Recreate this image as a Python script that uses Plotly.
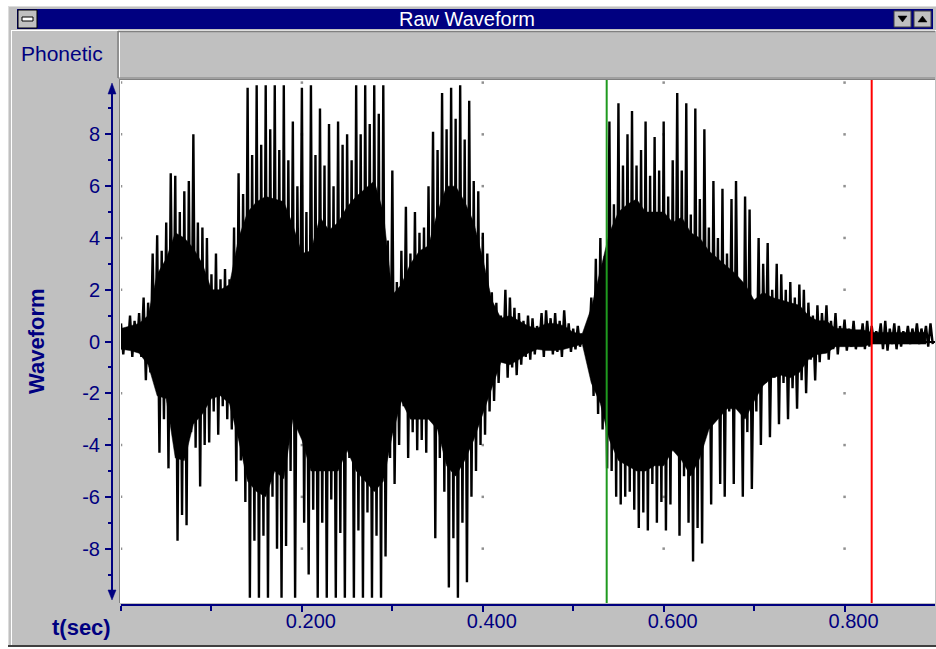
import plotly.graph_objects as go

# ---------------- data ----------------
SAMPLE_STEP = 0.005  # seconds between peak samples
upper_peak = [
    0.7, 0.5, 1.0, 0.8, 1.1, 1.7, 1.5, 3.4, 4.1, 3.5,
    4.6, 6.5, 6.4, 5.0, 5.8, 6.2, 8.0, 4.6, 4.4, 4.0,
    2.6, 3.4, 2.4, 2.8, 2.4, 4.4, 6.5, 5.7, 9.8, 7.2,
    9.9, 7.6, 9.9, 8.2, 9.9, 7.4, 9.9, 7.0, 8.5, 6.0,
    9.8, 5.0, 9.9, 7.2, 9.0, 6.8, 8.4, 6.0, 8.5, 7.6,
    8.0, 7.0, 9.9, 8.0, 9.9, 8.4, 9.9, 8.8, 9.9, 3.9,
    6.6, 2.3, 3.5, 5.2, 3.4, 5.0, 4.2, 4.4, 6.0, 8.1,
    7.4, 9.6, 8.2, 9.8, 8.6, 9.9, 7.8, 9.3, 6.2, 5.8,
    4.2, 3.4, 1.9, 1.5, 1.0, 2.0, 1.7, 1.3, 1.1, 0.8,
    1.0, 0.9, 0.6, 1.1, 1.2, 0.9, 1.1, 0.8, 1.2, 0.7,
    0.5, 0.6, 0.3, 0.4, 1.7, 3.2, 4.0, 3.3, 8.5, 5.3,
    9.2, 6.8, 8.0, 8.9, 6.8, 7.4, 8.5, 6.4, 7.9, 6.6,
    8.5, 5.6, 7.0, 9.6, 6.6, 9.2, 4.9, 9.0, 5.5, 8.2,
    4.4, 6.2, 4.0, 5.9, 3.4, 5.5, 6.2, 2.2, 5.6, 5.1,
    1.3, 4.0, 3.0, 3.8, 2.0, 3.0, 2.6, 2.0, 2.3, 1.7,
    2.2, 2.0, 1.5, 1.0, 1.4, 1.1, 1.4, 0.8, 1.1, 0.6,
    0.85, 0.5, 0.8, 0.4, 0.7, 0.8, 0.6, 0.4, 0.7, 0.8,
    0.5, 0.7, 0.6, 0.4, 0.6, 0.5, 0.7, 0.5, 0.6, 0.7,
]
lower_peak = [
    -0.5, -0.3, -0.6, -0.4, -0.6, -1.5, -1.2, -1.3, -4.3, -3.0,
    -4.9, -2.2, -7.7, -6.7, -7.1, -3.5, -4.1, -5.6, -4.0, -3.9,
    -2.7, -3.6, -2.5, -3.0, -3.4, -5.4, -4.6, -6.2, -9.9, -7.7,
    -9.9, -7.5, -9.9, -6.0, -8.0, -9.9, -7.9, -5.0, -9.9, -3.0,
    -7.0, -9.0, -6.5, -9.9, -7.0, -9.9, -6.1, -9.9, -7.4, -9.9,
    -4.5, -9.9, -7.3, -9.9, -6.6, -9.9, -7.5, -9.9, -8.3, -4.5,
    -5.5, -4.0, -2.5, -4.5, -3.5, -4.2, -3.8, -4.3, -3.0, -7.6,
    -4.5, -5.8, -9.5, -7.6, -9.9, -7.0, -9.3, -6.0, -5.0, -4.0,
    -3.6, -2.7, -2.3, -1.6, -0.8, -1.4, -1.0, -1.3, -0.9, -0.6,
    -0.7, -0.5, -0.2, -0.6, -0.3, -0.5, -0.4, -0.6, -0.2, -0.4,
    -0.3, -0.2, -0.1, -0.2, -2.1, -2.8, -3.4, -4.9, -5.0, -6.0,
    -6.3, -6.0, -5.8, -6.5, -7.2, -6.6, -7.3, -5.5, -7.0, -6.2,
    -7.3, -6.3, -4.0, -7.5, -5.2, -7.0, -8.5, -7.2, -7.8, -3.5,
    -6.3, -2.8, -5.5, -6.0, -2.7, -5.5, -2.5, -6.0, -3.5, -5.7,
    -2.7, -4.0, -1.6, -3.7, -1.4, -3.2, -1.6, -3.0, -1.8, -2.6,
    -1.5, -2.0, -0.7, -1.5, -0.8, -0.3, -0.7, -0.3, -0.5, -0.1,
    -0.35, -0.2, -0.3, -0.1, -0.3, -0.2, -0.05, 0.0, -0.3, -0.35,
    -0.1, -0.3, -0.2, -0.05, -0.1, 0.0, -0.1, 0.0, -0.2, -0.1,
]
# dense (solid black) core of the waveform, sampled every CORE_STEP seconds
CORE_STEP = 0.01
core_upper = [
    0.5, 0.6, 0.7, 1.0, 2.6, 3.2, 4.2, 4.0, 3.6, 3.0,
    2.0, 2.0, 2.2, 4.0, 5.0, 5.4, 5.6, 5.5, 5.4, 4.5,
    3.4, 3.5, 4.8, 4.3, 4.6, 5.2, 5.6, 5.9, 6.2, 5.0,
    1.8, 2.2, 3.0, 3.5, 3.7, 5.0, 6.0, 6.0, 5.4, 4.6,
    3.2, 1.6, 0.9, 1.0, 0.8, 0.6, 0.5, 0.7, 0.7, 0.6,
    0.35, 0.3, 1.3, 2.8, 4.2, 5.0, 5.3, 5.5, 5.0, 5.0,
    5.0, 4.6, 4.8, 4.2, 4.0, 3.5, 3.2, 2.9, 2.6, 2.2,
    1.6, 1.9, 1.7, 1.6, 1.5, 1.4, 1.0, 0.8, 0.8, 0.5,
    0.5, 0.45, 0.45, 0.35, 0.35, 0.35, 0.35, 0.35, 0.35, 0.35,
]
core_lower = [
    -0.3, -0.35, -0.45, -0.9, -2.1, -2.2, -4.5, -4.6, -3.2, -2.8,
    -2.2, -2.1, -2.4, -3.8, -5.4, -5.8, -6.0, -5.0, -5.3, -3.0,
    -3.8, -5.0, -5.0, -5.0, -5.0, -4.2, -5.0, -5.4, -5.8, -5.4,
    -3.6, -2.3, -3.0, -3.0, -3.0, -3.4, -4.8, -5.2, -4.6, -3.8,
    -2.8, -1.8, -0.8, -0.9, -0.7, -0.45, -0.3, -0.35, -0.35, -0.3,
    -0.2, -0.1, -1.6, -2.4, -3.8, -4.6, -4.8, -5.0, -5.0, -4.8,
    -4.8, -4.2, -4.6, -5.2, -4.5, -3.4, -3.0, -2.6, -2.6, -3.0,
    -2.3, -1.7, -1.4, -1.3, -1.4, -1.2, -0.7, -0.5, -0.45, -0.2,
    -0.2, -0.2, -0.2, -0.1, -0.1, -0.1, -0.1, -0.1, -0.1, -0.1,
]
cursor_start = 0.537   # green cursor (s)
cursor_end = 0.830     # red cursor (s)

x_tick_values = [0.2, 0.4, 0.6, 0.8]
x_tick_labels = ["0.200", "0.400", "0.600", "0.800"]
x_minor_values = [0.0, 0.1, 0.3, 0.5, 0.7]
y_tick_values = [-8, -6, -4, -2, 0, 2, 4, 6, 8]
y_tick_labels = ["-8", "-6", "-4", "-2", "0", "2", "4", "6", "8"]
y_minor_values = [-9, -7, -5, -3, -1, 1, 3, 5, 7, 9]
grid_x = [0.0, 0.2, 0.4, 0.6, 0.8]
grid_y = [10, 8, 6, 4, 2, -2, -4, -6, -8]

# ---------------- page geometry helpers ----------------
W, H = 936, 649
NAVY = "#000080"
GRAY = "#c0c0c0"
DARK = "#808080"
FONT = "Liberation Sans, Arial, sans-serif"


def px(x):
    return x / W


def py(y):
    return 1 - y / H


shapes = []


def rect(x0, y0, x1, y1, fill, line=None, lw=1, layer="below"):
    shapes.append(dict(type="rect", xref="paper", yref="paper",
                       x0=px(x0), x1=px(x1), y0=py(y1), y1=py(y0),
                       fillcolor=fill, layer=layer,
                       line=dict(color=line or fill, width=lw if line else 0)))


def hline(x0, x1, y, color, lw=1, layer="below"):
    shapes.append(dict(type="line", xref="paper", yref="paper",
                       x0=px(x0), x1=px(x1), y0=py(y), y1=py(y),
                       line=dict(color=color, width=lw), layer=layer))


def vline(x, y0, y1, color, lw=1, layer="below"):
    shapes.append(dict(type="line", xref="paper", yref="paper",
                       x0=px(x), x1=px(x), y0=py(y0), y1=py(y1),
                       line=dict(color=color, width=lw), layer=layer))


def tri(points, color, layer="above"):
    path = "M " + " L ".join(f"{px(a)},{py(b)}" for a, b in points) + " Z"
    shapes.append(dict(type="path", xref="paper", yref="paper", path=path,
                       fillcolor=color, line=dict(color=color, width=0.5),
                       layer=layer))


# window frame
rect(8, 6, 936, 646, GRAY)
hline(8, 936, 6.5, "#dcdcdc", 1)
vline(8.5, 6, 646, "#dcdcdc", 1)
vline(11.5, 30, 645, "#ffffff", 1)
hline(8, 936, 646, "#404040", 2)
# title bar
rect(17, 9, 933, 29, NAVY)
rect(18, 10, 37, 28, GRAY, line="#000000", lw=1)
rect(22, 17, 33, 21, "#ffffff", line="#000000", lw=1)
rect(894, 11, 911, 27, GRAY, line="#404040", lw=1)
rect(914, 11, 931, 27, GRAY, line="#404040", lw=1)
hline(12, 936, 30.5, "#ffffff", 1)
# phonetic row
vline(118, 31, 78, DARK, 1.5)
vline(119.5, 31, 78, "#ffffff", 1)
hline(118, 935, 31.5, DARK, 1.5)
hline(118, 935, 78, DARK, 1)
# plot area
rect(120, 80, 935, 603, "#ffffff")
hline(119, 935, 79.5, DARK, 1)
vline(119.5, 79, 603, DARK, 1)

# button triangles
tri([(898, 16), (907, 16), (902.5, 22)], "#000000")
tri([(918, 22), (927, 22), (922.5, 16)], "#000000")
# y axis line with arrows
vline(112, 90, 594, NAVY, 2, layer="above")
tri([(108, 94), (116, 94), (112, 83)], NAVY)
tri([(108, 590), (116, 590), (112, 600)], NAVY)

# cursors (data x, paper y)
for xc, col in [(cursor_start, "#1f9a1f"), (cursor_end, "#ff0000")]:
    shapes.append(dict(type="line", xref="x", yref="paper", x0=xc, x1=xc,
                       y0=py(603), y1=py(80), layer="above",
                       line=dict(color=col, width=2)))

# ---------------- traces ----------------
wave_x, wave_y = [], []
for i, (u, l) in enumerate(zip(upper_peak, lower_peak)):
    t = i * SAMPLE_STEP
    wave_x += [t, t + SAMPLE_STEP / 2]
    wave_y += [u, l]

core_t = [i * CORE_STEP for i in range(len(core_upper))]
core_x = core_t + core_t[::-1]
core_y = core_upper + core_lower[::-1]

fig = go.Figure()
fig.add_trace(go.Scatter(
    x=[gx for gx in grid_x for _ in grid_y],
    y=[gy for _ in grid_x for gy in grid_y],
    mode="markers", marker=dict(color="#909090", size=2.5, symbol="square"),
    hoverinfo="skip", showlegend=False))
fig.add_trace(go.Scatter(
    x=core_x, y=core_y, mode="lines", fill="toself",
    fillcolor="#000000", line=dict(color="#000000", width=0.5),
    showlegend=False, hoverinfo="skip"))
fig.add_trace(go.Scatter(
    x=wave_x, y=wave_y, mode="lines",
    line=dict(color="#000000", width=2.4), showlegend=False,
    hoverinfo="skip"))

annotations = [
    dict(text="Raw Waveform", x=px(467), y=py(19), showarrow=False,
         font=dict(family=FONT, size=20, color="#ffffff")),
    dict(text="Phonetic", x=px(62), y=py(53), showarrow=False,
         font=dict(family=FONT, size=21, color=NAVY)),
    dict(text="<b>Waveform</b>", x=px(36), y=py(341), showarrow=False,
         textangle=-90, font=dict(family=FONT, size=22, color=NAVY)),
    dict(text="<b>t(sec)</b>", x=px(81), y=py(627), showarrow=False,
         font=dict(family=FONT, size=22, color=NAVY)),
]
for a in annotations:
    a.update(xref="paper", yref="paper", xanchor="center", yanchor="middle")

fig.update_layout(
    width=W, height=H,
    margin=dict(l=0, r=0, t=0, b=0),
    paper_bgcolor="#ffffff", plot_bgcolor="#ffffff",
    shapes=shapes, annotations=annotations,
    xaxis=dict(
        domain=[px(121), px(935)], range=[0, 0.9],
        anchor="free", position=py(605),
        showline=True, linecolor=NAVY, linewidth=2,
        tickvals=x_tick_values, ticktext=x_tick_labels,
        ticks="outside", ticklen=6, tickwidth=2, tickcolor=NAVY,
        tickfont=dict(family=FONT, size=20, color=NAVY),
        ticklabelshift=9, ticklabelstandoff=-8,
        minor=dict(tickvals=x_minor_values, ticks="outside", ticklen=5,
                   tickwidth=2, tickcolor=NAVY),
        showgrid=False, zeroline=False, fixedrange=True,
    ),
    yaxis=dict(
        domain=[py(603), py(80)], range=[-10.1, 10.1],
        anchor="free", position=px(112),
        showline=False,
        tickvals=y_tick_values, ticktext=y_tick_labels,
        ticks="outside", ticklen=7, tickwidth=2, tickcolor=NAVY,
        tickfont=dict(family=FONT, size=20, color=NAVY),
        ticklabelstandoff=1,
        minor=dict(tickvals=y_minor_values, ticks="outside", ticklen=4,
                   tickwidth=2, tickcolor=NAVY),
        showgrid=False, zeroline=True, zerolinecolor="#000000",
        zerolinewidth=1.5, fixedrange=True,
    ),
)

fig.write_html("out.html")
